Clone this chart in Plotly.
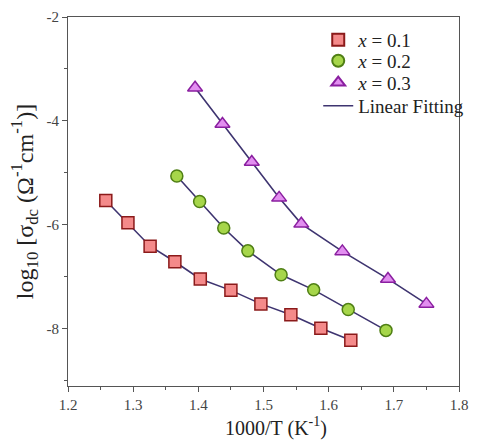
import plotly.graph_objects as go

x1 = [1.258, 1.292, 1.326, 1.364, 1.403, 1.450, 1.496, 1.542, 1.588, 1.634]
y1 = [-5.53, -5.96, -6.41, -6.71, -7.04, -7.26, -7.52, -7.73, -7.99, -8.22]
x2 = [1.367, 1.402, 1.439, 1.476, 1.527, 1.577, 1.630, 1.688]
y2 = [-5.06, -5.55, -6.06, -6.50, -6.96, -7.25, -7.63, -8.03]
x3 = [1.395, 1.437, 1.482, 1.524, 1.558, 1.621, 1.691, 1.750]
y3 = [-3.36, -4.06, -4.79, -5.48, -5.98, -6.51, -7.04, -7.52]

names = ["<i>x</i> = 0.1", "<i>x</i> = 0.2", "<i>x</i> = 0.3"]
fills = ["#f48a8a", "#a6d64a", "#e28ef0"]
edges = ["#8b1a1a", "#4f7f14", "#8a1fa0"]
symbols = ["square", "circle", "triangle-up"]
sizes = [12, 12, 13]
line_color = "#3e3470"

font = "Liberation Serif, Times New Roman, serif"
legend_rows = [0.938, 0.881, 0.822, 0.759]
legend_ids = ["legend", "legend2", "legend3", "legend4"]

fig = go.Figure()
series = [(x1, y1), (x2, y2), (x3, y3)]
for i, (xs, ys) in enumerate(series):
    fig.add_trace(go.Scatter(x=xs, y=ys, mode="lines", line=dict(color=line_color, width=1.6),
                             name="Linear Fitting", showlegend=(i == 0), legend="legend4"))
for i, (xs, ys) in enumerate(series):
    fig.add_trace(go.Scatter(x=xs, y=ys, mode="markers", name=names[i], legend=legend_ids[i],
                             marker=dict(symbol=symbols[i], size=sizes[i], color=fills[i],
                                         line=dict(color=edges[i], width=1.5))))

legend_common = dict(x=0.64, xanchor="left", yanchor="middle", bgcolor="rgba(0,0,0,0)",
                     font=dict(family=font, size=19, color="#222222"))

fig.update_layout(
    width=478, height=447,
    margin=dict(l=68, r=9, t=14, b=61),
    paper_bgcolor="white", plot_bgcolor="white",
    font=dict(family=font, color="#333333"),
    showlegend=True,
    legend=dict(y=legend_rows[0], itemsizing="constant", **legend_common),
    legend2=dict(y=legend_rows[1], itemsizing="constant", **legend_common),
    legend3=dict(y=legend_rows[2], itemsizing="constant", **legend_common),
    legend4=dict(y=legend_rows[3], itemsizing="trace", **legend_common),
    xaxis=dict(range=[1.2, 1.8], tickvals=[1.2, 1.3, 1.4, 1.5, 1.6, 1.7, 1.8],
               ticktext=["1.2", "1.3", "1.4", "1.5", "1.6", "1.7", "1.8"],
               ticks="outside", ticklen=5, tickcolor="#555555", showgrid=False, zeroline=False,
               showline=True, linecolor="#555555", linewidth=1.2, mirror=True,
               minor=dict(dtick=0.05, ticks="outside", ticklen=3, tickcolor="#555555", showgrid=False),
               tickfont=dict(size=15, color="#444444"),
               title=dict(text="&nbsp;&nbsp;&nbsp;&nbsp;&nbsp;1000/T (K<sup>-1</sup>)",
                          font=dict(size=20, color="#222222"), standoff=8)),
    yaxis=dict(range=[-9.1, -2], tickvals=[-2, -4, -6, -8], ticktext=["-2", "-4", "-6", "-8"],
               ticks="outside", ticklen=5, tickcolor="#555555", showgrid=False, zeroline=False,
               showline=True, linecolor="#555555", linewidth=1.2, mirror=True,
               minor=dict(tickvals=[-3, -5, -7, -9], ticks="outside", ticklen=3, tickcolor="#555555", showgrid=False),
               tickfont=dict(size=15, color="#444444"),
               title=dict(text="log<sub>10</sub> [σ<sub>dc</sub> (Ω<sup>-1</sup>cm<sup>-1</sup>)]",
                          font=dict(size=24, color="#222222"), standoff=6)),
)

fig.write_html("out.html")
